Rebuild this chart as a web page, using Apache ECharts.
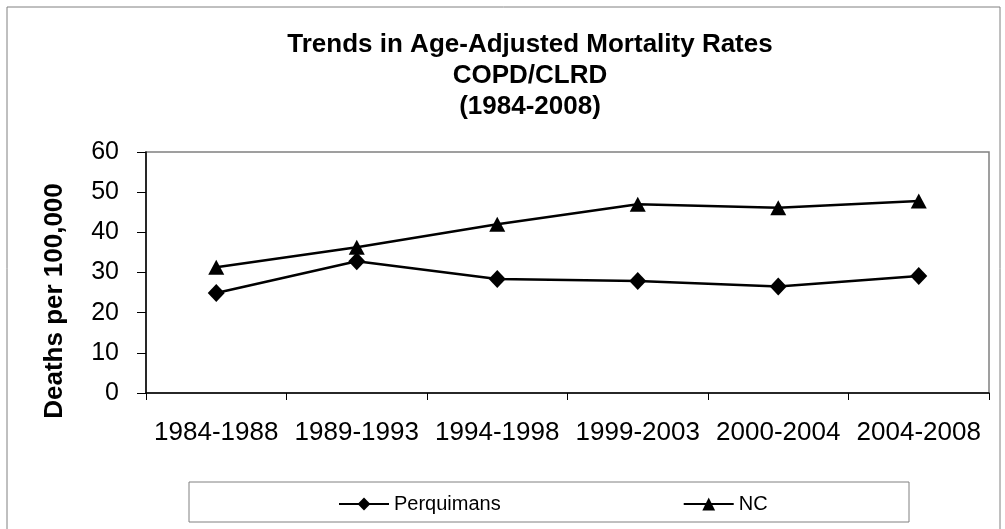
<!DOCTYPE html>
<html>
<head>
<meta charset="utf-8">
<script src="https://cdn.jsdelivr.net/npm/echarts@6/dist/echarts.min.js"></script>
<style>
  html, body { margin: 0; padding: 0; background: #fff; }
  #myChart { width: 1005px; height: 529px; }
</style>
</head>
<body>
<div id="myChart"></div>
<script>
// values
var periods = ['1984-1988', '1989-1993', '1994-1998', '1999-2003', '2000-2004', '2004-2008'];
var perquimans = [24.9, 32.8, 28.4, 27.9, 26.5, 29.1];
var nc = [31.3, 36.3, 42.0, 47.0, 46.1, 47.8];
var yTicks = [0, 10, 20, 30, 40, 50, 60];

var font = 'Liberation Sans, Arial, sans-serif';

var option = {
    animation: false,
    backgroundColor: '#fff',
    title: {
        text: 'Trends in Age-Adjusted Mortality Rates\nCOPD/CLRD\n(1984-2008)',
        left: 530,
        top: 29,
        padding: 0,
        textAlign: 'center',
        textStyle: { fontFamily: font, fontSize: 26, fontWeight: 'bold', color: '#000', lineHeight: 31 }
    },
    grid: {
        left: 146, right: 16, top: 152, bottom: 136,
        show: true, borderColor: '#808080', borderWidth: 1.5
    },
    legend: {
        data: ['Perquimans', 'NC'],
        left: 333,
        top: 489,
        itemWidth: 50,
        itemHeight: 16,
        itemGap: 182,
        textStyle: { fontFamily: font, fontSize: 20, color: '#000' }
    },
    xAxis: {
        type: 'category',
        data: periods,
        boundaryGap: true,
        axisLine: { lineStyle: { color: '#000', width: 1.5 } },
        axisTick: { show: true, interval: 0, length: 7, lineStyle: { color: '#000' } },
        axisLabel: { interval: 0, fontFamily: font, fontSize: 26, color: '#000', margin: 27 },
        splitLine: { show: false }
    },
    yAxis: {
        type: 'value',
        min: yTicks[0],
        max: yTicks[yTicks.length - 1],
        interval: 10,
        axisLine: { show: true, lineStyle: { color: '#000', width: 1.5 } },
        axisTick: { show: true, length: 9, lineStyle: { color: '#000' } },
        axisLabel: { fontFamily: font, fontSize: 25, color: '#000', margin: 27 },
        splitLine: { show: false }
    },
    graphic: [
        {
            type: 'rect',
            shape: { x: 7, y: 7, width: 993, height: 540 },
            style: { fill: 'none', stroke: '#808080', lineWidth: 1 },
            silent: true, z: -1
        },
        {
            type: 'rect',
            shape: { x: 189, y: 482, width: 720, height: 40 },
            style: { fill: 'none', stroke: '#808080', lineWidth: 1 },
            silent: true
        },
        {
            type: 'text',
            x: 55, y: 301,
            rotation: Math.PI / 2,
            style: {
                text: 'Deaths per 100,000',
                fontFamily: font, fontSize: 26, fontWeight: 'bold', fill: '#000',
                textAlign: 'center', textVerticalAlign: 'middle'
            }
        }
    ],
    series: [
        {
            name: 'Perquimans',
            type: 'line',
            data: perquimans,
            symbol: 'diamond',
            symbolSize: [17, 18],
            showAllSymbol: true,
            lineStyle: { color: '#000', width: 2.5 },
            itemStyle: { color: '#000', borderWidth: 0 }
        },
        {
            name: 'NC',
            type: 'line',
            data: nc,
            symbol: 'triangle',
            symbolSize: [16, 15],
            showAllSymbol: true,
            lineStyle: { color: '#000', width: 2.5 },
            itemStyle: { color: '#000', borderWidth: 0 }
        }
    ]
};

var myChart = echarts.init(document.getElementById('myChart'));
myChart.setOption(option);
</script>
</body>
</html>
